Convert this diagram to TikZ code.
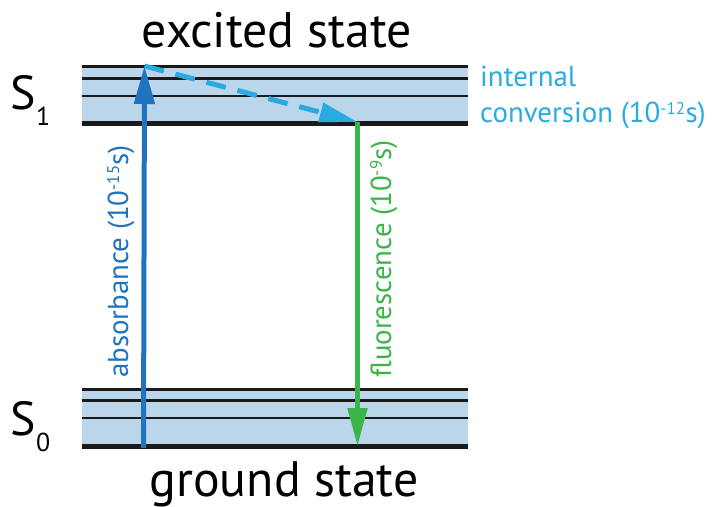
\documentclass[tikz,border=0pt]{standalone}
\usepackage{fontspec}
\setmainfont{PT Sans}
\usetikzlibrary{arrows.meta}
\definecolor{bandfill}{HTML}{BBD5EA}
\definecolor{absblue}{HTML}{1F74BD}
\definecolor{icblue}{HTML}{29ABE2}
\definecolor{flgreen}{HTML}{3AB54A}
\definecolor{lvl}{HTML}{1A1A1A}
\tikzset{
  band/.style={fill=bandfill, draw=none},
  level/.style={draw=lvl, line width=2.5bp},
  baselevel/.style={draw=lvl, line width=5bp},
  bigtext/.style={font=\fontsize{50}{50}\selectfont, inner sep=0pt},
  statelbl/.style={font=\fontsize{48}{48}\selectfont, inner sep=0pt},
  statesub/.style={font=\fontsize{26}{26}\selectfont, inner sep=0pt},
  smalltext/.style={font=\fontsize{29}{29}\selectfont, inner sep=0pt},
  transition/.style={line width=5bp},
}
\newcommand{\expo}[1]{\textsuperscript{\fontsize{17}{17}\selectfont #1}}
\begin{document}
\begin{tikzpicture}[x=1bp,y=-1bp]
\useasboundingbox (0,0) rectangle (715,507);
% S1 band
\fill[band] (82,67) rectangle (468,124);
\draw[level, line width=3bp] (82,67) -- (468,67);
\draw[level] (82,78.5) -- (468,78.5);
\draw[level] (82,96) -- (468,96);
\draw[baselevel] (82,124) -- (468,124);
% S0 band
\fill[band] (82,389) rectangle (468,446);
\draw[level, line width=3bp] (82,389) -- (468,389);
\draw[level] (82,400.5) -- (468,400.5);
\draw[level] (82,418) -- (468,418);
\draw[baselevel] (82,446) -- (468,446);

% transition end points
\coordinate (absstart) at (143.5,448);
\coordinate (abstop) at (144.5,66);
\coordinate (flstart) at (357.5,122);
\coordinate (flend) at (357.5,446);

% internal conversion (dashed)
\draw[transition, icblue, dash pattern=on 20bp off 12bp,
      -{Triangle[length=38bp,width=19bp]}] (abstop) -- (flstart);
% absorbance
\draw[transition, absblue, -{Triangle[length=38bp,width=20bp]}] (absstart) -- (abstop);
% fluorescence
\draw[transition, flgreen, -{Triangle[length=38bp,width=19bp]}] (flstart) -- (flend);

% labels
\node[bigtext, anchor=base] (exc) at (277,48) {excited state};
\node[bigtext, anchor=base] (gnd) at (284,496) {ground state};
\node[statelbl, anchor=base west] (s1) at (10,110) {S};
\node[statesub, anchor=base west] (s1sub) at (36,126) {1};
\node[statelbl, anchor=base west] (s0) at (10,435) {S};
\node[statesub, anchor=base west] (s0sub) at (36,451) {0};
\node[smalltext, icblue, anchor=base west] (ic1) at (480,87) {internal};
\node[smalltext, icblue, anchor=base west] (ic2) at (480,123) {conversion (10\expo{-12}s)};
\node[smalltext, absblue, anchor=base west, rotate=90] (abslbl) at (128,378) {absorbance (10\expo{-15}s)};
\node[smalltext, flgreen, anchor=base west, rotate=90] (fllbl) at (391,378) {fluorescence (10\expo{-9}s)};
\end{tikzpicture}
\end{document}
